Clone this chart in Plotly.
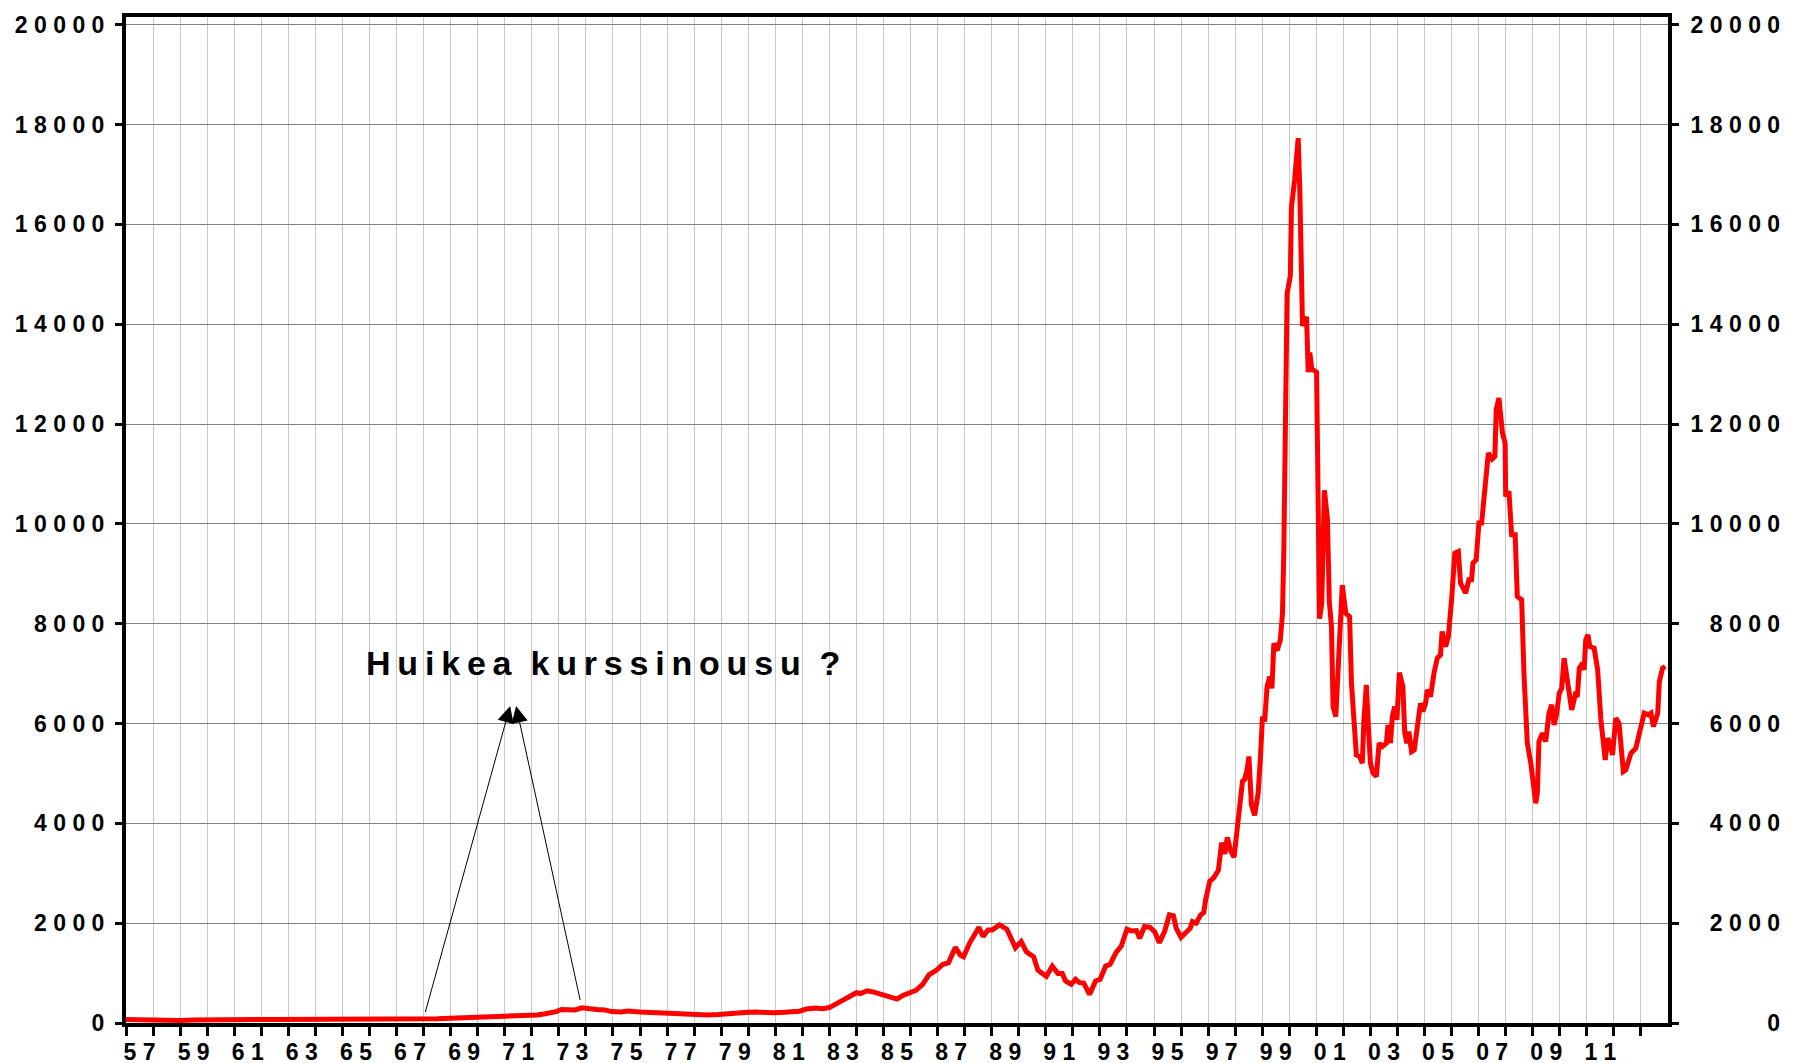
import plotly.graph_objects as go

# ---------------- data ----------------
years = [
    1957.0, 1957.5, 1958.0, 1958.5, 1959.0, 1959.5, 1960.0, 1960.5, 1961.0, 1961.5,
    1962.0, 1962.5, 1963.0, 1963.5, 1964.0, 1964.5, 1965.0, 1965.5, 1966.0, 1966.5,
    1967.0, 1967.5, 1968.0, 1968.5, 1969.0, 1969.5, 1970.0, 1970.5, 1971.0, 1971.5,
    1971.9, 1972.2, 1972.45, 1972.7, 1972.9, 1973.1, 1973.3, 1973.6, 1973.85, 1974.1,
    1974.4, 1974.7, 1974.95, 1975.3, 1975.55, 1976.0, 1976.5, 1977.0, 1977.5, 1977.95,
    1978.2, 1978.5, 1978.9, 1979.3, 1979.7, 1980.0, 1980.3, 1980.6, 1980.9, 1981.2,
    1981.5, 1981.9, 1982.15, 1982.5, 1982.75, 1983.0, 1983.25, 1983.55, 1983.8, 1984.0,
    1984.15, 1984.4, 1984.65, 1984.95, 1985.25, 1985.5, 1985.72, 1985.97, 1986.2, 1986.45,
    1986.68, 1986.95, 1987.2, 1987.4, 1987.66, 1987.84, 1987.96, 1988.18, 1988.37, 1988.53,
    1988.68, 1988.86, 1989.02, 1989.29, 1989.56, 1989.69, 1989.88, 1990.09, 1990.28, 1990.55,
    1990.71, 1991.02, 1991.24, 1991.45, 1991.61, 1991.73, 1991.94, 1992.1, 1992.25, 1992.4,
    1992.62, 1992.84, 1993.01, 1993.21, 1993.38, 1993.6, 1993.79, 1994.0, 1994.16, 1994.35,
    1994.47, 1994.65, 1994.84, 1995.02, 1995.2, 1995.39, 1995.57, 1995.72, 1995.82, 1996.0,
    1996.19, 1996.34, 1996.42, 1996.56, 1996.72, 1996.84, 1996.91, 1997.06, 1997.2, 1997.38,
    1997.5, 1997.62, 1997.71, 1997.83, 1997.96, 1998.07, 1998.15, 1998.27, 1998.35, 1998.44,
    1998.51, 1998.6, 1998.72, 1998.85, 1998.93, 1999.01, 1999.09, 1999.18, 1999.28, 1999.36,
    1999.43, 1999.55, 1999.67, 1999.75, 1999.8, 1999.87, 1999.92, 2000.04, 2000.08, 2000.2,
    2000.33, 2000.39, 2000.49, 2000.64, 2000.7, 2000.76, 2000.83, 2001.01, 2001.12, 2001.2,
    2001.3, 2001.41, 2001.48, 2001.56, 2001.62, 2001.72, 2001.77, 2001.86, 2001.96, 2002.09,
    2002.23, 2002.3, 2002.38, 2002.48, 2002.6, 2002.7, 2002.76, 2002.85, 2002.91, 2003.0,
    2003.1, 2003.22, 2003.32, 2003.44, 2003.59, 2003.65, 2003.74, 2003.81, 2003.9, 2003.98,
    2004.07, 2004.2, 2004.27, 2004.35, 2004.42, 2004.52, 2004.62, 2004.73, 2004.85, 2004.94,
    2005.04, 2005.1, 2005.22, 2005.35, 2005.47, 2005.59, 2005.65, 2005.78, 2005.88, 2006.0,
    2006.12, 2006.25, 2006.33, 2006.52, 2006.64, 2006.74, 2006.79, 2006.91, 2007.01, 2007.11,
    2007.23, 2007.36, 2007.5, 2007.6, 2007.65, 2007.75, 2007.88, 2007.98, 2008.0, 2008.12,
    2008.22, 2008.35, 2008.43, 2008.59, 2008.68, 2008.8, 2008.93, 2009.05, 2009.11, 2009.17,
    2009.23, 2009.36, 2009.48, 2009.6, 2009.7, 2009.79, 2009.88, 2009.98, 2010.07, 2010.16,
    2010.28, 2010.44, 2010.57, 2010.65, 2010.72, 2010.84, 2010.9, 2010.96, 2011.04, 2011.11,
    2011.27, 2011.4, 2011.52, 2011.68, 2011.77, 2011.85, 2011.95, 2012.07, 2012.19, 2012.35,
    2012.44, 2012.63, 2012.81, 2012.96, 2013.12, 2013.28, 2013.37, 2013.46, 2013.62, 2013.68,
    2013.8, 2013.9,
]

index_values = [
    70, 60, 50, 50, 52, 58, 65, 70, 78, 75,
    70, 68, 68, 72, 75, 74, 72, 70, 70, 68,
    62, 62, 67, 87, 95, 105, 113, 120, 127, 132,
    140, 160, 180, 200, 227, 270, 268, 262, 305, 280,
    272, 262, 228, 220, 240, 222, 208, 188, 176, 155,
    165, 160, 168, 192, 212, 214, 218, 205, 205, 212,
    222, 236, 282, 300, 285, 310, 384, 465, 532, 606,
    590, 645, 618, 560, 502, 478, 552, 606, 655, 774,
    963, 1057, 1178, 1205, 1515, 1360, 1327, 1596, 1764, 1919,
    1731, 1865, 1865, 1966, 1879, 1731, 1508, 1630, 1428, 1327,
    1057, 936, 1138, 990, 990, 842, 774, 875, 808, 801,
    572, 842, 875, 1138, 1178, 1414, 1542, 1879, 1845, 1852,
    1697, 1933, 1919, 1832, 1609, 1832, 2168, 2148, 1899, 1717,
    1811, 1900, 2030, 2000, 2160, 2215, 2470, 2840, 2905, 3060,
    3610, 3390, 3720, 3455, 3320, 3800, 4305, 4840, 4880, 5072,
    5339, 4372, 4160, 4605, 5272, 6139, 6039, 6739, 6939, 6706,
    7606, 7460, 7673, 8207, 9500, 11675, 14612, 14970, 16331, 16900,
    17728, 16689, 13967, 14146, 13036, 13430, 13108, 13036, 8100, 8400,
    10672, 10100, 8450, 7940, 6339, 6139, 6673, 7540, 8774, 8207,
    8140, 6806, 6272, 5372, 5339, 5205, 6072, 6773, 6072, 5205,
    5005, 4939, 5606, 5539, 5606, 5972, 5606, 6139, 6339, 6072,
    7020, 6740, 5800, 5606, 5838, 5437, 5470, 6005, 6406, 6240,
    6406, 6673, 6540, 7008, 7309, 7375, 7843, 7543, 7743, 8478,
    9414, 9447, 8812, 8612, 8879, 8879, 9213, 9280, 10015, 10015,
    10683, 11419, 11298, 11352, 12287, 12521, 11820, 11619, 10550, 10650,
    9781, 9781, 8545, 8478, 6941, 5604, 5203, 4736, 4401, 4602,
    5638, 5805, 5638, 6206, 6373, 5972, 6172, 6607, 6707, 7309,
    6841, 6273, 6574, 6540, 7108, 7208, 7075, 7676, 7776, 7543,
    7509, 7075, 6072, 5270, 5705, 5604, 5370, 6106, 6005, 5036,
    5070, 5404, 5504, 5805, 6206, 6172, 6206, 5939, 6206, 6841,
    7108, 7141,
]

# x axis: one tick per year, label every second year (centred in the year)
year_ticks = list(range(1957, 2014))
label_years = [1957, 1959, 1961, 1963, 1965, 1967, 1969, 1971, 1973, 1975,
               1977, 1979, 1981, 1983, 1985, 1987, 1989, 1991, 1993, 1995,
               1997, 1999, 2001, 2003, 2005, 2007, 2009, 2011]
year_labels = ["57", "59", "61", "63", "65", "67", "69", "71", "73", "75",
               "77", "79", "81", "83", "85", "87", "89", "91", "93", "95",
               "97", "99", "01", "03", "05", "07", "09", "11"]

y_ticks = [0, 2000, 4000, 6000, 8000, 10000, 12000, 14000, 16000, 18000, 20000]
y_labels = ["0", "2000", "4000", "6000", "8000", "10000", "12000", "14000",
            "16000", "18000", "20000"]

annotation_text = "Huikea kurssinousu ?"

# ---------------- helpers ----------------
def spaced(s, sep=" "):
    return sep.join(s)

NB = "\u00a0"
THIN = "\u2009"
left_text = [spaced(t) for t in y_labels]
maxlen = max(len(t) for t in y_labels)
right_text = [NB * (3 * (maxlen - len(t))) + spaced(t) for t in y_labels]
x_text = [spaced(t) for t in year_labels]
ann_text = (NB + NB).join(spaced(w, THIN) for w in annotation_text.split(" "))

FONT = "Liberation Sans, Arial, sans-serif"
tickfont = dict(family=FONT, size=23, color="black", weight="bold")

YMAX = 20154
XR = [1957, 2014]

fig = go.Figure()
fig.add_trace(go.Scatter(
    x=years, y=index_values, mode="lines",
    line=dict(color="#FF0000", width=5),
    showlegend=False, hoverinfo="skip",
))
# carrier trace for the overlay axes (labels between ticks, right y axis)
fig.add_trace(go.Scatter(
    x=XR, y=[None, None], xaxis="x2", yaxis="y2", mode="lines",
    showlegend=False, hoverinfo="skip",
))

fig.update_layout(
    width=1798, height=1077,
    margin=dict(l=126, r=130, t=12, b=45, pad=0),
    paper_bgcolor="white", plot_bgcolor="white",
    showlegend=False,
    xaxis=dict(
        range=XR, tickmode="array", tickvals=year_ticks,
        showticklabels=False, ticks="outside", ticklen=9, tickwidth=3,
        tickcolor="black", showgrid=True, gridcolor="#c8c8c8", gridwidth=1,
        showline=True, linecolor="black", linewidth=4, mirror=True,
        zeroline=False, fixedrange=True,
    ),
    xaxis2=dict(
        range=XR, overlaying="x", side="bottom", anchor="y",
        tickmode="array", tickvals=[y + 0.5 for y in label_years], ticktext=x_text,
        ticks="", showgrid=False, showline=False, zeroline=False,
        tickfont=tickfont, ticklabelstandoff=13,
    ),
    yaxis=dict(
        range=[0, YMAX], tickmode="array", tickvals=y_ticks, ticktext=left_text,
        ticks="outside", ticklen=7, tickwidth=3, tickcolor="black",
        showgrid=True, gridcolor="#808080", gridwidth=1,
        showline=True, linecolor="black", linewidth=4,
        zeroline=False, tickfont=tickfont, ticklabelstandoff=6,
    ),
    yaxis2=dict(
        range=[0, YMAX], overlaying="y", side="right", anchor="x",
        tickmode="array", tickvals=y_ticks, ticktext=right_text,
        ticks="outside", ticklen=7, tickwidth=3, tickcolor="black",
        showgrid=False, showline=True, linecolor="black", linewidth=4,
        zeroline=False, tickfont=tickfont, ticklabelstandoff=7,
    ),
)

fig.add_annotation(
    x=1974.62, y=7210, xref="x", yref="y", text=ann_text, showarrow=False,
    font=dict(family=FONT, size=34, color="black", weight="bold"),
    xanchor="center", yanchor="middle",
)
fig.add_annotation(
    x=1971.2, y=6350, ax=1968.05, ay=190, xref="x", yref="y", axref="x", ayref="y",
    text="", showarrow=True, arrowhead=2, arrowsize=3.3, arrowwidth=1,
    arrowcolor="black", standoff=0, startstandoff=0,
)
fig.add_annotation(
    x=1971.42, y=6350, ax=1973.8, ay=430, xref="x", yref="y", axref="x", ayref="y",
    text="", showarrow=True, arrowhead=2, arrowsize=3.3, arrowwidth=1,
    arrowcolor="black", standoff=0, startstandoff=0,
)

fig.write_html(
    "out.html",
    config={"displayModeBar": False, "staticPlot": True},
    post_script="document.body.style.margin='0px';document.body.style.overflow='hidden';",
)
